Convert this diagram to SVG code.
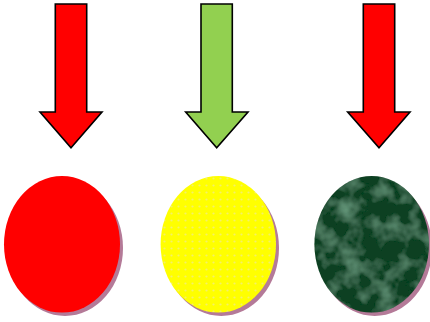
<svg xmlns="http://www.w3.org/2000/svg" width="430" height="322" viewBox="0 0 430 322">
<style>
.arrow{stroke:#000;stroke-width:1.6;stroke-linejoin:miter}
.shadow{fill:#b47a98}
</style>
<defs>
<pattern id="dots" width="7" height="7" patternUnits="userSpaceOnUse">
<rect width="7" height="7" fill="#ffff00"/>
<circle cx="3.5" cy="3.5" r="1.1" fill="#f4f06a"/>
</pattern>
<filter id="marble" x="0" y="0" width="1" height="1">
<feTurbulence type="fractalNoise" baseFrequency="0.05" numOctaves="3" seed="7" result="t"/>
<feColorMatrix in="t" type="matrix" values="0 0 0 0 0.2  0 0 0 0 0.46  0 0 0 0 0.3  1.2 0 0 0 -0.5" result="c"/>
<feComposite in="c" in2="SourceGraphic" operator="in" result="m"/>
<feMerge><feMergeNode in="SourceGraphic"/><feMergeNode in="m"/></feMerge>
</filter>
</defs>
<g id="connectors">
<polygon id="arrow1" class="arrow" fill="#ff0000" points="55.3,4 86.7,4 86.7,112 102,112 71,147.7 40,112 55.3,112"/>
<polygon id="arrow2" class="arrow" fill="#92d050" points="201,4 232.3,4 232.3,112 248,112 216.7,147.7 185.7,112 201,112"/>
<polygon id="arrow3" class="arrow" fill="#ff0000" points="363.3,4 394.7,4 394.7,112 410,112 379,147.7 347.7,112 363.3,112"/>
</g>
<g id="node-red">
<ellipse class="shadow" cx="65" cy="248" rx="58" ry="68"/>
<ellipse cx="62" cy="244.3" rx="58" ry="68.3" fill="#ff0000"/>
</g>
<g id="node-yellow">
<ellipse class="shadow" cx="221.3" cy="248" rx="57.7" ry="68"/>
<ellipse cx="218.3" cy="244.3" rx="57.7" ry="68.3" fill="url(#dots)"/>
</g>
<g id="node-green">
<ellipse class="shadow" cx="374.7" cy="248" rx="57.3" ry="68"/>
<ellipse cx="371.7" cy="244.3" rx="57.3" ry="68.3" fill="#0f4022" filter="url(#marble)"/>
</g>
</svg>
